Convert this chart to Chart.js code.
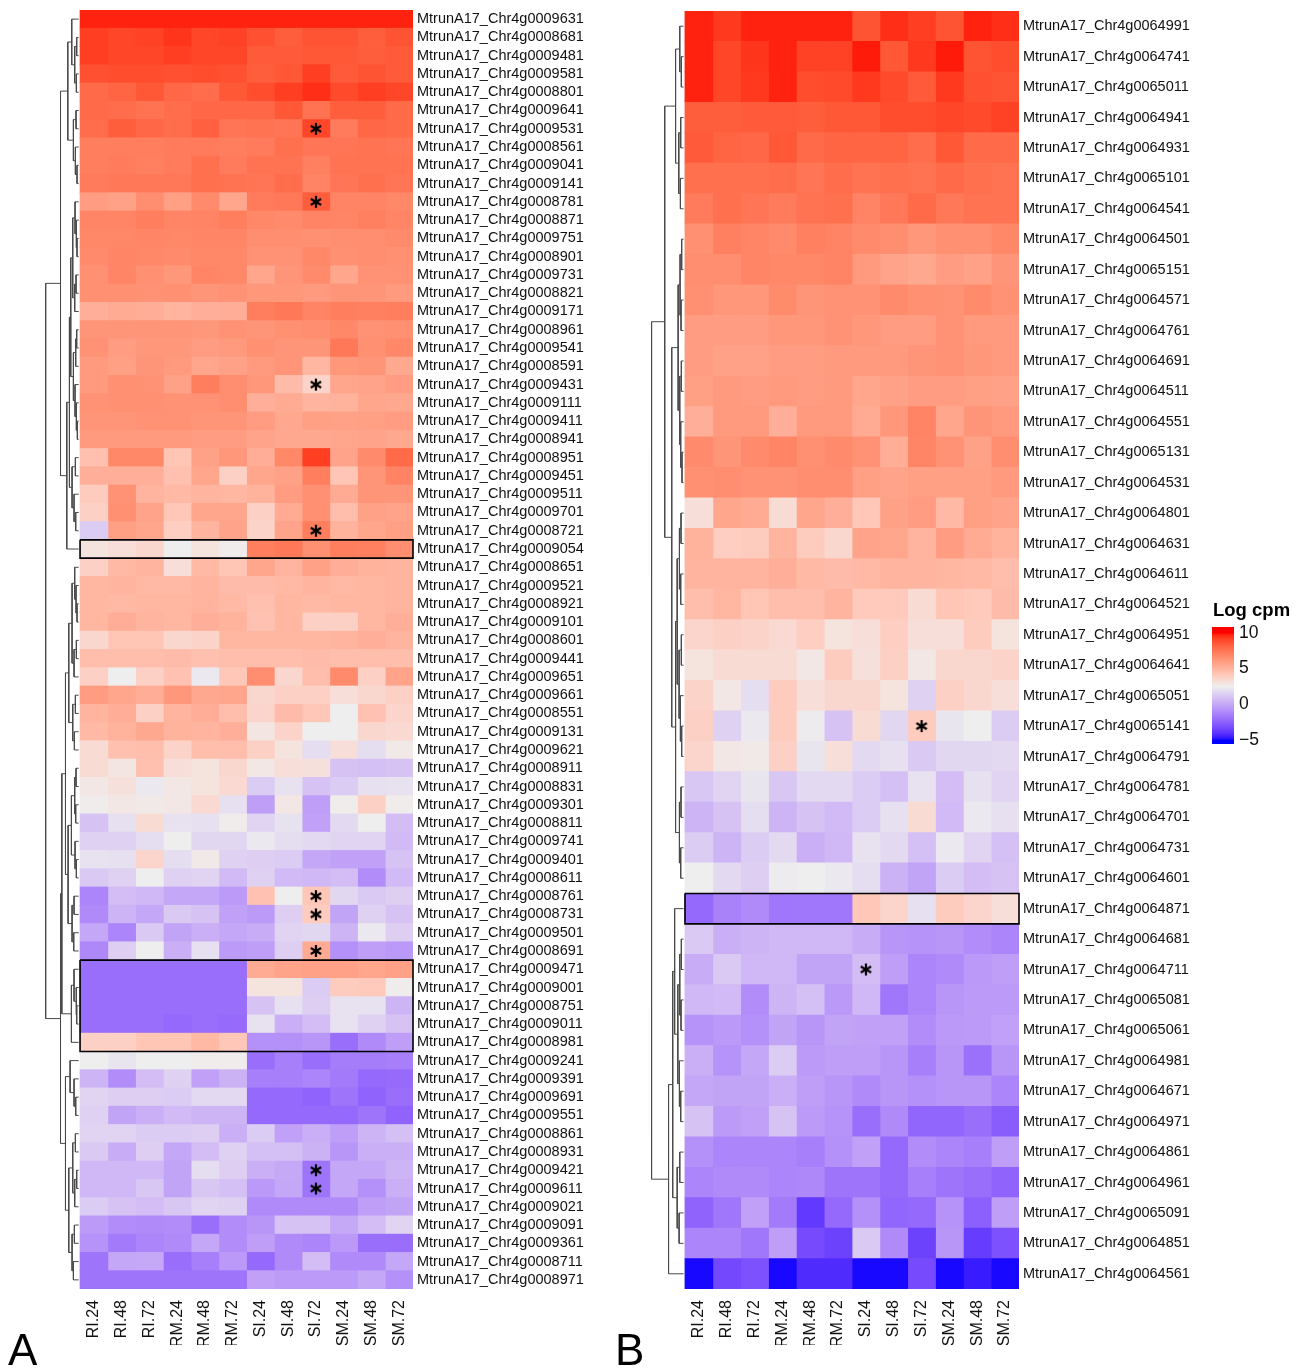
<!DOCTYPE html>
<html>
<head>
<meta charset="utf-8">
<script src="https://cdn.jsdelivr.net/npm/chart.js@4.4.0/dist/chart.umd.min.js"></script>
<style>
  body { margin:0; background:#fff; width:1304px; height:1368px; position:relative; overflow:hidden; font-family:"Liberation Sans", Arial, sans-serif; }
  .pane { position:absolute; }
  .tag { position:absolute; font-size:44px; line-height:1; color:#000; }
  #legTitle { position:absolute; left:1213px; top:599px; font-weight:bold; font-size:18.5px; color:#000; }
</style>
</head>
<body>
<div class="pane" style="left:0;top:0;width:600px;height:1345px"><canvas id="chartA"></canvas></div>
<div class="pane" style="left:600px;top:0;width:600px;height:1345px"><canvas id="chartB"></canvas></div>
<div class="pane" style="left:1200px;top:590px;width:104px;height:170px"><canvas id="chartLeg"></canvas></div>
<div id="legTitle">Log cpm</div>
<div class="tag" style="left:8px;top:1328px">A</div>
<div class="tag" style="left:615px;top:1328px">B</div>

<script>
const columns = ["RI.24","RI.48","RI.72","RM.24","RM.48","RM.72","SI.24","SI.48","SI.72","SM.24","SM.48","SM.72"];

// ---- panel A ----
const genesA = [
  "MtrunA17_Chr4g0009631","MtrunA17_Chr4g0008681","MtrunA17_Chr4g0009481","MtrunA17_Chr4g0009581","MtrunA17_Chr4g0008801",
  "MtrunA17_Chr4g0009641","MtrunA17_Chr4g0009531","MtrunA17_Chr4g0008561","MtrunA17_Chr4g0009041","MtrunA17_Chr4g0009141",
  "MtrunA17_Chr4g0008781","MtrunA17_Chr4g0008871","MtrunA17_Chr4g0009751","MtrunA17_Chr4g0008901","MtrunA17_Chr4g0009731",
  "MtrunA17_Chr4g0008821","MtrunA17_Chr4g0009171","MtrunA17_Chr4g0008961","MtrunA17_Chr4g0009541","MtrunA17_Chr4g0008591",
  "MtrunA17_Chr4g0009431","MtrunA17_Chr4g0009111","MtrunA17_Chr4g0009411","MtrunA17_Chr4g0008941","MtrunA17_Chr4g0008951",
  "MtrunA17_Chr4g0009451","MtrunA17_Chr4g0009511","MtrunA17_Chr4g0009701","MtrunA17_Chr4g0008721","MtrunA17_Chr4g0009054",
  "MtrunA17_Chr4g0008651","MtrunA17_Chr4g0009521","MtrunA17_Chr4g0008921","MtrunA17_Chr4g0009101","MtrunA17_Chr4g0008601",
  "MtrunA17_Chr4g0009441","MtrunA17_Chr4g0009651","MtrunA17_Chr4g0009661","MtrunA17_Chr4g0008551","MtrunA17_Chr4g0009131",
  "MtrunA17_Chr4g0009621","MtrunA17_Chr4g0008911","MtrunA17_Chr4g0008831","MtrunA17_Chr4g0009301","MtrunA17_Chr4g0008811",
  "MtrunA17_Chr4g0009741","MtrunA17_Chr4g0009401","MtrunA17_Chr4g0008611","MtrunA17_Chr4g0008761","MtrunA17_Chr4g0008731",
  "MtrunA17_Chr4g0009501","MtrunA17_Chr4g0008691","MtrunA17_Chr4g0009471","MtrunA17_Chr4g0009001","MtrunA17_Chr4g0008751",
  "MtrunA17_Chr4g0009011","MtrunA17_Chr4g0008981","MtrunA17_Chr4g0009241","MtrunA17_Chr4g0009391","MtrunA17_Chr4g0009691",
  "MtrunA17_Chr4g0009551","MtrunA17_Chr4g0008861","MtrunA17_Chr4g0008931","MtrunA17_Chr4g0009421","MtrunA17_Chr4g0009611",
  "MtrunA17_Chr4g0009021","MtrunA17_Chr4g0009091","MtrunA17_Chr4g0009361","MtrunA17_Chr4g0008711","MtrunA17_Chr4g0008971"
];
const logcpmA = [
  [9.7,9.7,9.7,9.7,9.7,9.7,9.7,9.7,9.7,9.7,9.7,9.7],
  [9.2,9.0,9.1,9.4,9.0,9.1,8.7,8.3,8.6,8.6,8.3,8.6],
  [9.2,9.0,9.0,9.2,9.0,9.0,8.4,8.4,8.5,8.5,8.3,8.4],
  [8.7,8.8,8.8,8.7,8.8,8.7,8.3,8.5,9.2,8.4,8.6,8.4],
  [7.9,8.1,8.5,8.0,7.8,8.5,8.8,9.2,9.5,8.9,9.2,9.0],
  [7.9,7.8,7.6,7.8,8.0,8.0,8.0,8.5,7.6,8.3,8.3,7.9],
  [7.8,8.3,8.0,7.8,8.2,7.5,7.6,7.5,9.0,7.3,8.0,7.9],
  [7.2,7.2,7.2,7.3,7.3,7.2,7.3,7.7,7.5,7.5,7.6,7.5],
  [7.2,7.3,7.1,7.3,7.7,7.3,7.6,7.6,7.1,7.6,7.6,7.6],
  [7.3,7.4,7.4,7.4,7.7,7.6,7.5,7.8,7.0,7.5,7.7,7.5],
  [6.0,5.8,6.6,5.9,6.7,5.6,7.3,7.4,8.3,7.0,7.0,6.8],
  [6.9,6.9,7.2,6.9,7.0,7.2,6.8,6.7,7.0,6.9,7.1,6.9],
  [6.8,6.8,6.9,6.8,6.9,6.9,6.6,6.6,6.5,6.6,6.6,6.7],
  [6.7,6.9,6.8,6.7,6.8,6.8,6.4,6.4,6.8,6.5,6.6,6.5],
  [6.5,6.9,6.5,6.2,6.9,6.8,5.6,6.3,6.7,5.6,6.4,6.4],
  [6.5,6.5,6.4,6.5,6.3,6.4,6.2,6.2,6.1,6.3,6.3,6.1],
  [5.2,5.4,5.3,5.0,5.2,5.3,7.2,7.4,7.0,7.2,7.1,7.2],
  [6.3,6.3,6.3,6.3,6.2,6.4,6.3,6.5,6.6,6.8,6.4,6.5],
  [6.4,6.0,6.2,6.2,6.0,6.1,6.5,6.3,6.3,7.4,6.5,6.8],
  [6.1,5.9,6.3,6.1,5.6,5.8,6.1,6.3,4.9,6.2,6.3,5.5],
  [6.1,6.5,6.4,5.8,7.2,6.6,6.2,4.7,3.7,5.6,5.7,6.0],
  [6.4,6.5,6.5,6.4,6.4,6.6,5.2,5.4,5.0,5.1,5.6,5.5],
  [6.3,6.3,6.4,6.4,6.3,6.3,6.0,5.5,5.9,5.8,5.9,6.0],
  [6.1,6.1,6.1,6.1,6.0,6.0,5.7,5.5,5.5,5.6,5.7,5.5],
  [4.5,6.8,6.8,4.3,5.8,6.2,5.3,6.8,9.2,5.7,6.7,7.9],
  [5.2,5.2,5.2,4.5,5.6,3.8,5.6,5.8,7.2,4.3,6.3,7.0],
  [4.0,6.4,5.0,4.8,5.0,4.9,5.1,6.0,6.5,5.4,6.3,6.3],
  [3.8,6.5,5.7,4.2,5.6,5.6,3.8,5.4,6.5,4.6,5.8,5.7],
  [1.3,5.9,5.6,3.9,5.0,5.7,3.7,5.7,7.2,5.1,5.6,5.9],
  [3.0,3.2,3.5,2.5,3.0,2.6,7.2,7.4,6.5,7.2,7.1,6.6],
  [3.8,4.8,5.0,3.2,4.8,4.3,5.6,5.0,5.8,5.3,5.1,5.0],
  [4.9,5.0,4.8,4.8,5.0,4.7,4.7,4.8,5.0,4.8,4.9,5.0],
  [4.9,4.8,4.9,4.9,5.0,4.8,4.5,4.9,4.8,4.9,4.9,5.0],
  [4.9,5.3,5.0,4.9,5.2,5.1,4.4,4.9,3.8,3.8,4.9,5.2],
  [3.5,4.3,4.3,3.5,3.7,4.9,4.9,4.9,4.9,5.0,5.2,5.0],
  [4.6,4.6,4.6,4.7,4.5,4.6,4.6,4.6,4.7,4.6,4.6,4.6],
  [3.8,2.5,3.8,4.4,2.3,4.2,6.6,3.5,4.6,6.7,3.8,5.7],
  [6.0,5.6,5.3,6.2,5.5,5.6,3.5,3.8,3.8,3.2,3.5,3.8],
  [5.0,5.3,3.8,5.0,5.3,4.6,3.6,4.7,4.2,2.5,4.4,3.6],
  [4.8,5.1,5.5,5.1,5.0,5.2,2.9,3.7,2.5,2.5,3.5,3.4],
  [3.3,4.5,4.6,3.7,4.6,4.6,3.8,3.0,1.9,3.2,1.9,2.7],
  [3.3,2.9,4.5,3.2,3.0,3.5,2.8,3.2,3.1,1.0,0.9,1.0],
  [2.8,3.1,2.3,2.8,3.0,3.4,1.3,2.1,1.0,1.3,2.0,2.1],
  [2.6,2.8,2.7,2.8,3.4,2.0,-0.3,2.8,-0.3,2.6,3.8,2.6],
  [1.0,2.0,3.3,2.1,2.0,2.6,1.6,2.1,-0.2,1.8,2.5,0.8],
  [1.5,1.5,1.9,2.5,1.7,1.7,2.3,1.9,1.8,1.6,1.6,0.7],
  [2.1,2.0,3.6,1.9,2.7,1.5,1.4,1.3,0.0,-0.2,-0.2,1.0],
  [1.2,1.5,2.5,1.5,1.6,0.7,1.5,0.7,0.6,0.8,-0.9,0.7],
  [-1.2,0.8,0.6,0.0,0.0,-0.4,4.4,2.5,4.2,1.7,1.2,1.4],
  [-1.0,0.5,0.0,1.2,1.0,-0.2,-0.4,1.4,4.0,-0.1,1.5,1.0],
  [0.0,-1.2,1.2,-0.1,0.3,0.0,0.2,1.6,1.7,0.5,2.3,1.4],
  [-1.1,1.4,2.5,0.3,2.0,-0.4,-0.3,1.4,5.4,-0.8,-0.3,-0.5],
  [-2.0,-2.0,-2.0,-2.0,-2.0,-2.0,5.4,5.7,5.8,5.8,5.6,5.8],
  [-2.0,-2.0,-2.0,-2.0,-2.0,-2.0,3.0,3.0,1.3,4.0,4.1,2.6],
  [-2.0,-2.0,-2.0,-2.0,-2.0,-2.0,1.0,2.0,1.4,2.1,2.1,0.5],
  [-2.0,-2.0,-2.0,-2.2,-2.0,-2.1,2.1,0.3,0.8,2.1,1.5,1.0],
  [3.8,3.8,4.3,4.3,4.8,4.2,-0.8,-0.8,-0.6,-2.0,-1.0,-0.3],
  [2.5,2.2,2.5,2.5,2.6,2.6,-2.0,-1.4,-2.0,-1.5,-1.5,-1.4],
  [0.5,-0.9,0.8,1.5,-0.2,0.4,-1.4,-1.4,-1.2,-1.6,-2.2,-2.1],
  [1.6,1.4,1.4,1.3,1.8,1.8,-2.2,-2.2,-2.4,-1.8,-2.4,-2.0],
  [1.5,-0.1,0.3,0.7,0.5,0.5,-2.2,-2.2,-2.2,-2.2,-1.8,-2.4],
  [1.6,1.6,1.3,1.3,1.4,0.3,1.3,-0.2,0.3,-0.3,0.5,0.9],
  [1.2,0.2,1.4,0.0,0.8,1.5,0.9,0.9,0.4,-0.6,0.3,0.3],
  [0.6,0.6,0.6,-0.1,1.9,1.4,0.3,0.1,-1.8,0.0,0.0,0.5],
  [0.6,0.6,1.1,-0.1,1.1,0.9,-0.5,0.0,-1.8,0.0,-0.8,0.3],
  [1.3,1.0,0.8,1.1,1.6,1.5,-1.0,-1.0,-1.0,-1.0,-0.3,-0.1],
  [-0.4,-0.9,-1.0,-0.9,-2.0,-0.9,-0.6,1.0,1.0,0.1,0.8,1.6],
  [-0.7,-1.6,-1.2,-1.0,0.0,-0.9,-0.3,-1.0,-1.2,-0.5,-2.0,-2.0],
  [-1.8,0.0,0.1,-2.0,-1.4,-0.5,-2.2,-1.0,0.8,-1.0,-1.0,0.0],
  [-1.8,-1.8,-1.8,-1.8,-1.8,-1.8,-0.2,-0.4,-0.4,-0.4,0.0,-0.8]
];
const starsA = [[6,8],[10,8],[20,8],[28,8],[48,8],[49,8],[51,8],[63,8],[64,8]]; // [row, column]
const boxesA = [[29,29],[52,56]]; // [first row, last row]
// dendrogram: [merge height, left, right]; leaves are row indices
const treeA = [100,
  [55,
    [33,
      [21, 0, [12, [6, 1, 2], [7, 3, 4]]],
      [16, [8, 5, 6], [10, 7, [5, 8, 9]]]],
    [36,
      [28,
        [24, [18, [11, 10, [7, 11, [5, 12, 13]]], [12, [8, 14, 15], 16]], [16, [9, [6, 17, 18], 19], [11, 20, [7, 21, [4, 22, 23]]]]],
        [20, [10, 24, 25], [14, 26, [9, 27, 28]]]],
      29]],
  [55,
    [51,
      [40,
        [30, [20, [12, 30, [8, 31, [5, 32, 33]]], [14, [7, 34, 35], 36]], [18, [10, 37, 38], [13, 39, 40]]],
        [32, [22, [12, [8, 41, 42], [9, 43, 44]], [11, 45, [7, 46, 47]]], [20, [14, 48, 49], [15, 50, 51]]]],
      [22, [14, 52, [8, 53, [6, 54, 55]]], 56]],
    [40,
      [26, 57, [14, 58, [9, 59, 60]]],
      [30, [18, [10, 61, 62], [12, [6, 63, 64], 65]], [20, [13, 66, 67], [16, 68, 69]]]]]];

// ---- panel B ----
const genesB = [
  "MtrunA17_Chr4g0064991","MtrunA17_Chr4g0064741","MtrunA17_Chr4g0065011","MtrunA17_Chr4g0064941","MtrunA17_Chr4g0064931",
  "MtrunA17_Chr4g0065101","MtrunA17_Chr4g0064541","MtrunA17_Chr4g0064501","MtrunA17_Chr4g0065151","MtrunA17_Chr4g0064571",
  "MtrunA17_Chr4g0064761","MtrunA17_Chr4g0064691","MtrunA17_Chr4g0064511","MtrunA17_Chr4g0064551","MtrunA17_Chr4g0065131",
  "MtrunA17_Chr4g0064531","MtrunA17_Chr4g0064801","MtrunA17_Chr4g0064631","MtrunA17_Chr4g0064611","MtrunA17_Chr4g0064521",
  "MtrunA17_Chr4g0064951","MtrunA17_Chr4g0064641","MtrunA17_Chr4g0065051","MtrunA17_Chr4g0065141","MtrunA17_Chr4g0064791",
  "MtrunA17_Chr4g0064781","MtrunA17_Chr4g0064701","MtrunA17_Chr4g0064731","MtrunA17_Chr4g0064601","MtrunA17_Chr4g0064871",
  "MtrunA17_Chr4g0064681","MtrunA17_Chr4g0064711","MtrunA17_Chr4g0065081","MtrunA17_Chr4g0065061","MtrunA17_Chr4g0064981",
  "MtrunA17_Chr4g0064671","MtrunA17_Chr4g0064971","MtrunA17_Chr4g0064861","MtrunA17_Chr4g0064961","MtrunA17_Chr4g0065091",
  "MtrunA17_Chr4g0064851","MtrunA17_Chr4g0064561"
];
const logcpmB = [
  [9.7,9.3,9.7,9.7,9.7,9.7,8.6,9.5,9.2,8.6,9.7,9.5],
  [9.7,9.0,9.4,9.7,9.1,9.1,9.8,8.5,9.3,9.8,8.6,8.8],
  [9.7,9.0,9.3,9.7,8.8,8.9,9.3,8.9,8.4,9.3,8.7,8.6],
  [8.3,8.3,8.4,8.4,8.3,8.5,8.5,8.8,8.8,9.0,8.9,9.1],
  [8.4,8.1,8.0,8.5,7.9,8.1,8.1,8.1,7.8,8.5,7.9,7.9],
  [7.7,7.7,7.7,7.8,7.5,7.8,7.6,7.7,7.6,7.9,7.7,7.6],
  [7.3,7.7,7.5,7.3,7.6,7.7,7.0,7.4,7.9,7.4,7.6,7.6],
  [6.5,7.1,6.9,6.7,7.1,7.0,6.7,6.6,6.2,6.5,6.5,6.8],
  [6.6,6.6,6.9,6.8,6.8,7.0,6.1,5.7,5.5,6.0,5.8,6.3],
  [6.5,6.2,6.2,6.7,6.3,6.4,6.4,6.7,6.5,6.4,6.7,6.4],
  [6.0,6.0,6.0,6.2,6.2,6.4,6.2,6.0,6.0,6.4,6.1,6.1],
  [6.0,5.8,5.8,6.0,6.0,6.1,6.1,6.1,6.3,6.4,6.2,6.1],
  [5.9,6.1,6.0,6.1,6.0,6.1,5.6,5.8,6.0,6.0,5.9,5.8],
  [5.2,6.1,6.1,5.2,6.1,6.1,5.4,6.2,7.0,5.6,6.3,6.1],
  [6.7,6.3,6.7,6.9,6.5,6.7,6.4,5.3,6.9,6.4,5.8,6.6],
  [6.5,6.6,6.4,6.4,6.6,6.6,5.9,5.7,5.9,5.9,5.9,6.1],
  [3.2,5.6,5.4,3.3,5.6,5.2,4.2,5.8,6.0,4.8,5.9,5.7],
  [5.1,3.9,4.0,5.0,4.0,3.5,5.7,5.6,5.0,6.0,5.4,5.1],
  [5.0,5.0,5.0,5.2,4.8,4.7,4.8,5.0,5.0,4.9,4.8,4.6],
  [4.6,4.9,4.3,4.6,4.6,5.0,4.1,4.1,3.3,4.3,4.1,4.7],
  [3.6,3.8,3.7,3.4,3.9,3.0,3.2,3.9,3.2,3.2,4.0,3.0],
  [3.0,3.3,3.3,3.3,2.8,4.0,3.1,3.8,2.8,3.5,3.5,3.7],
  [3.7,2.8,1.9,4.0,3.2,3.5,3.5,3.0,1.5,3.8,3.5,3.2],
  [3.8,1.5,2.3,4.0,2.4,1.0,3.3,1.7,4.0,2.2,2.5,1.3],
  [3.6,2.8,2.7,3.8,2.2,3.2,1.8,2.0,1.2,1.7,1.7,1.8],
  [1.1,1.6,2.2,1.1,1.8,1.8,1.3,0.9,2.1,0.8,2.0,1.6],
  [0.5,1.0,1.9,0.5,1.0,0.7,1.3,2.0,3.3,0.7,2.3,2.0],
  [1.3,0.5,1.3,1.8,0.3,0.6,2.1,1.8,0.9,2.3,1.6,0.9],
  [2.5,1.8,1.4,2.4,2.5,2.3,1.9,0.4,-0.1,1.3,0.8,1.0],
  [-2.2,-1.3,-1.0,-1.7,-1.7,-1.7,4.2,3.6,2.0,4.0,3.6,3.2],
  [1.2,0.3,0.5,0.6,0.6,0.6,0.2,-0.6,-0.7,-0.6,-0.9,-1.2],
  [0.2,1.2,0.6,0.6,-0.1,-0.1,0.8,-0.3,-1.2,-1.0,-0.5,-0.3],
  [0.6,0.7,-0.9,0.5,0.9,-0.5,0.6,-1.7,-1.2,-0.6,-0.4,-0.4],
  [-0.7,-0.5,-0.8,-0.1,-0.6,-0.1,-0.2,-0.2,-0.9,-0.5,-0.4,-0.2],
  [0.3,-0.7,0.0,1.3,-0.4,-0.3,-0.3,-0.6,-1.4,-0.6,-1.9,-0.6],
  [0.0,-0.1,-0.1,0.3,-0.3,-0.6,-1.0,-0.6,-0.8,-0.6,-0.6,-1.2],
  [1.0,-0.4,-0.2,1.0,-0.4,-0.7,-2.0,-1.0,-2.3,-2.3,-2.0,-2.6],
  [-0.8,-1.2,-1.2,-1.2,-1.4,-0.8,-0.2,-2.2,-0.9,-1.2,-1.4,-0.3],
  [-1.2,-1.0,-1.0,-1.2,-1.1,-1.8,-1.8,-2.2,-1.4,-1.8,-2.0,-2.4],
  [-2.4,-1.7,-0.2,-1.6,-3.8,-2.2,-0.8,-2.3,-2.2,-0.7,-2.5,-0.3],
  [-1.2,-1.2,-1.7,-0.3,-3.2,-3.5,1.2,-1.0,-3.5,-0.6,-3.7,-3.0],
  [-4.9,-3.3,-3.0,-4.9,-4.2,-4.2,-4.9,-4.9,-3.2,-4.9,-4.6,-4.9]
];
const starsB = [[23,8],[31,6]];
const boxesB = [[29,29]];
const treeB = [100,
  [59,
    [25, [12, 0, [7, 1, 2]], [15, [9, 3, 4], [10, 5, 6]]],
    [37,
      [17, [11, [6, 7, 8], [8, 9, 10]], [12, [7, 11, 12], [9, 13, [5, 14, 15]]]],
      [25, [20, [13, [8, 16, 17], [9, 18, 19]], [14, [7, 20, 21], [10, 22, [6, 23, 24]]]], [13, [8, 25, 26], [9, 27, 28]]]]],
  [47,
    [34, [28, 29, [18, [12, [7, 30, 31], [8, 32, 33]], [13, 34, [9, 35, 36]]]], [20, [12, 37, 38], [14, 39, 40]]],
    41]];

// colour scale: blue -> light grey -> red, interpolated in Lab
const scaleBreaks = [-5, 2.5, 10];
const scaleColors = [[0,0,255],[238,238,238],[255,0,0]];
const legendTicks = [-5, 0, 5, 10];

const FONT = '"Liberation Sans", Arial, sans-serif';

function toLab(rgb){
  const lin = rgb.map(c => { c /= 255; return c <= 0.04045 ? c/12.92 : Math.pow((c+0.055)/1.055, 2.4); });
  const X = (0.4124*lin[0] + 0.3576*lin[1] + 0.1805*lin[2]) / 0.95047;
  const Y = (0.2126*lin[0] + 0.7152*lin[1] + 0.0722*lin[2]);
  const Z = (0.0193*lin[0] + 0.1192*lin[1] + 0.9505*lin[2]) / 1.08883;
  const f = t => t > 0.008856 ? Math.cbrt(t) : 7.787*t + 16/116;
  const fx=f(X), fy=f(Y), fz=f(Z);
  return [116*fy-16, 500*(fx-fy), 200*(fy-fz)];
}
function fromLab([L,a,b]){
  const fy=(L+16)/116, fx=fy+a/500, fz=fy-b/200;
  const inv = t => t*t*t > 0.008856 ? t*t*t : (t-16/116)/7.787;
  const X=0.95047*inv(fx), Y=inv(fy), Z=1.08883*inv(fz);
  const lin = [3.2406*X-1.5372*Y-0.4986*Z, -0.9689*X+1.8758*Y+0.0415*Z, 0.0557*X-0.2040*Y+1.0570*Z];
  return lin.map(c => {
    c = c <= 0.0031308 ? 12.92*c : 1.055*Math.pow(c, 1/2.4) - 0.055;
    return Math.round(Math.max(0, Math.min(1, c)) * 255);
  });
}
const labStops = scaleColors.map(toLab);
function colorFor(v){
  v = Math.max(scaleBreaks[0], Math.min(scaleBreaks[2], v));
  const k = v <= scaleBreaks[1] ? 0 : 1;
  const t = (v - scaleBreaks[k]) / (scaleBreaks[k+1] - scaleBreaks[k]);
  const A = labStops[k], B = labStops[k+1];
  const c = fromLab([0,1,2].map(i => A[i] + (B[i]-A[i])*t));
  return `rgb(${c[0]},${c[1]},${c[2]})`;
}

// asterisk marker
function makeStar(){
  const c = document.createElement("canvas");
  c.width = 16; c.height = 16;
  const g = c.getContext("2d");
  g.strokeStyle = "#000"; g.lineWidth = 2.2; g.lineCap = "butt";
  [90, 30, 150].forEach(deg => {
    const r = deg*Math.PI/180, dx = Math.cos(r)*6, dy = Math.sin(r)*6;
    g.beginPath(); g.moveTo(8-dx, 8-dy); g.lineTo(8+dx, 8+dy); g.stroke();
  });
  return c;
}
const starImg = makeStar();

function dendroPoints(tree, k, gap){
  const pts = [];
  const walk = (n) => {
    if (typeof n === "number") return {y:n, h:0};
    const [h, a, b] = n;
    const L = walk(a), R = walk(b);
    const xs = v => -(v*k + gap);
    pts.push({x:xs(L.h), y:L.y}, {x:xs(h), y:L.y}, {x:xs(h), y:R.y}, {x:xs(R.h), y:R.y}, {x:NaN, y:NaN});
    return {y:(L.y+R.y)/2, h};
  };
  walk(tree);
  return pts;
}

function boxPoints(boxes, ncol){
  const pts = [];
  boxes.forEach(([r0, r1]) => {
    pts.push({x:0,y:r0-0.5},{x:ncol,y:r0-0.5},{x:ncol,y:r1+0.5},{x:0,y:r1+0.5},{x:0,y:r0-0.5},{x:NaN,y:NaN});
  });
  return pts;
}

function makeHeatmap(id, genes, values, stars, boxes, tree, cfg){
  const cellSets = columns.map((col, ci) => ({
    type: "bar",
    label: col,
    data: genes.map((g, ri) => ({x:[ci, ci+1], y:ri})),
    backgroundColor: values.map(row => colorFor(row[ci])),
    borderWidth: 0,
    grouped: false,
    barPercentage: 1,
    categoryPercentage: 1,
    inflateAmount: 0.4,
    order: 4
  }));
  return new Chart(document.getElementById(id), {
    type: "bar",
    data: {
      datasets: [
        ...cellSets,
        { type:"line", data: dendroPoints(tree, cfg.dendroScale, 0.05), borderColor:"#4a4a4a", borderWidth:1,
          pointRadius:0, spanGaps:false, order:3 },
        { type:"line", data: boxPoints(boxes, columns.length), borderColor:"#000", borderWidth:1.6,
          pointRadius:0, spanGaps:false, clip:false, order:2 },
        { type:"line", data: stars.map(([r, c]) => ({x:c+0.5, y:r})), showLine:false,
          pointStyle: starImg, pointRadius:5, order:1 }
      ]
    },
    options: {
      indexAxis: "y",
      responsive: true, maintainAspectRatio: false,
      animation: false, events: [],
      layout: { autoPadding: false, padding: { left: cfg.left, top: cfg.top, right: 0, bottom: 0 } },
      plugins: { legend: { display:false }, tooltip: { enabled:false } },
      scales: {
        x: {
          type: "linear", min: -1.3, max: columns.length, position: "bottom", offset: false,
          grid: { display:false }, border: { display:false },
          afterBuildTicks: (ax) => { ax.ticks = columns.map((c, i) => ({value: i + 0.5})); },
          afterFit: (ax) => { ax.height = 56; ax.paddingLeft = 0; ax.paddingRight = 0; },
          ticks: { autoSkip:false, minRotation:90, maxRotation:90, padding:3, color:"#111",
            font: { family: FONT, size: 16 }, callback: (v, i) => columns[i] }
        },
        y: {
          type: "linear", min: -0.5, max: genes.length - 0.5, reverse: true, position: "right", offset: false,
          grid: { display:false, drawTicks:false, offset:false }, border: { display:false },
          afterBuildTicks: (ax) => { ax.ticks = genes.map((g, i) => ({value: i})); },
          afterFit: (ax) => { ax.width = cfg.axisW; ax.paddingTop = 0; ax.paddingBottom = 0; },
          ticks: { autoSkip:false, padding:4, color:"#111",
            font: { family: FONT, size: 14.5 }, callback: (v, i) => genes[i] }
        }
      }
    }
  });
}

function makeLegend(){
  return new Chart(document.getElementById("chartLeg"), {
    type: "bar",
    data: {
      labels: [""],
      datasets: [{
        data: [[-5.5, 10.8]],
        barPercentage: 1, categoryPercentage: 1, borderWidth: 0,
        backgroundColor: (ctx) => {
          const area = ctx.chart.chartArea;
          if (!area) return null;
          const ys = ctx.chart.scales.y;
          const g = ctx.chart.ctx.createLinearGradient(0, area.bottom, 0, area.top);
          for (let v = -5.5; v <= 10.8; v += 0.25) {
            g.addColorStop((ys.getPixelForValue(v) - area.bottom) / (area.top - area.bottom), colorFor(v));
          }
          return g;
        }
      }]
    },
    options: {
      responsive: true, maintainAspectRatio: false, animation: false, events: [],
      layout: { autoPadding: false, padding: { left: 12, top: 37, bottom: 16, right: 0 } },
      plugins: { legend: { display:false }, tooltip: { enabled:false } },
      scales: {
        x: { display:false },
        y: {
          min: -5.5, max: 10.8, position: "right", z: 1,
          grid: { color:"#fff", lineWidth:1, drawTicks:false },
          border: { display:false, dash:[4,14] },
          afterBuildTicks: (ax) => { ax.ticks = legendTicks.map(v => ({value:v})); },
          afterFit: (ax) => { ax.width = 70; ax.paddingTop = 0; ax.paddingBottom = 0; },
          ticks: { padding:5, color:"#111", font: { family: FONT, size: 17.5 },
            callback: (v) => v < 0 ? "\u2212" + Math.abs(v) : String(v) }
        }
      }
    }
  });
}

window.addEventListener("DOMContentLoaded", () => {
  makeHeatmap("chartA", genesA, logcpmA, starsA, boxesA, treeA, { left:44, top:10, axisW:187, dendroScale:0.0119 });
  makeHeatmap("chartB", genesB, logcpmB, starsB, boxesB, treeB, { left:48.8, top:11, axisW:181, dendroScale:0.0115 });
  makeLegend();
});
</script>
</body>
</html>
